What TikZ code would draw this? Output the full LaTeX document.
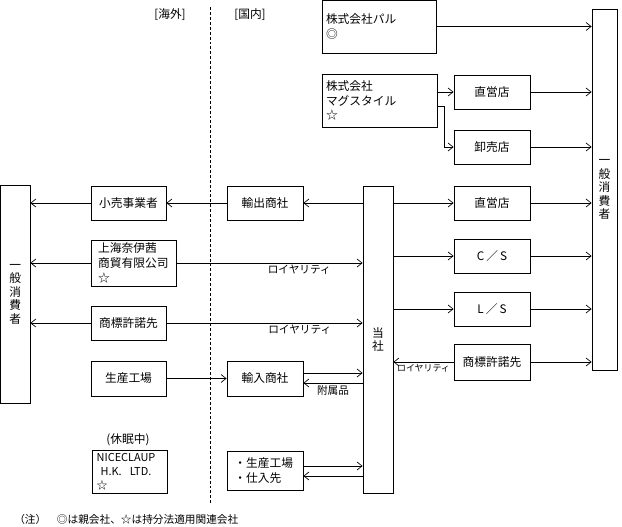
\documentclass[tikz,border=0pt]{standalone}
\usepackage{fontspec}
\setmainfont{Noto Sans CJK JP}
\usetikzlibrary{arrows.meta,calc}

\tikzset{
    box/.style={draw, line width=0.6pt, minimum width=57pt, minimum height=25.5pt, inner sep=0pt, font=\fontsize{8.8}{11}\selectfont},
    tall/.style={draw, line width=0.6pt, inner sep=0pt, align=center, font=\fontsize{8.8}{10.1}\selectfont},
    flow/.style={line width=0.5pt, -{Straight Barb[length=3.75pt,width=6pt]}},
    lbl/.style={font=\fontsize{8}{9}\selectfont, inner sep=1.5pt},
    sml/.style={font=\fontsize{6.7}{8}\selectfont, inner sep=1.5pt},
    head/.style={font=\fontsize{8.8}{10}\selectfont}
}

\begin{document}
\begin{tikzpicture}[x=0.75pt, y=-0.75pt]
    \useasboundingbox (0, 0) rectangle (622, 526);

    \node[head] (os) at (170, 15) {[海外]};
    \node[head] (dm) at (250, 15) {[国内]};
    \draw[line width=0.5pt, dash pattern=on 2.2pt off 1.5pt] (210, 7) -- (210, 503);

    \node[box, minimum width=85.5pt, minimum height=39.75pt, align=left, text width=79.5pt] (pal) at (379, 26.5) {株式会社パル\\◎};
    \node[box, minimum width=86.25pt, minimum height=39.75pt, align=left, text width=80.25pt] (mag) at (379.5, 100.5) {株式会社\\マグスタイル\\☆};
    \node[box] (d1) at (492, 92) {直営店};
    \node[box] (w1) at (492, 147) {卸売店};
    \node[tall, minimum width=18.75pt, minimum height=270.75pt] (con1) at (604.5, 189.5) {一\\般\\消\\費\\者};

    \node[tall, minimum width=22pt, minimum height=163.5pt] (con2) at (15.25, 294) {一\\般\\消\\費\\者};
    \node[box, minimum width=56.25pt] (rt) at (128.5, 203) {小売事業者};
    \node[box] (ex) at (265, 203) {輸出商社};
    \node[box, minimum width=63.75pt, minimum height=34.5pt, align=left, text width=53pt] (sh) at (133.5, 263) {上海奈伊茜\\商貿有限公司\\☆};
    \node[box, minimum width=56.25pt] (tl) at (128.5, 323) {商標許諾先};
    \node[box, minimum width=56.25pt, minimum height=26.25pt] (fa) at (128.5, 378.5) {生産工場};
    \node[box, minimum height=26.25pt] (im) at (265, 378.5) {輸入商社};
    \node[head] (ks) at (128, 440) {(休眠中)};
    \node[box, minimum width=56.25pt, minimum height=32.25pt, align=left, text width=50pt, font=\fontsize{8.2}{10.5}\selectfont] (nc) at (130, 471.5) {NICECLAUP\\\hspace{3pt}H.K.\hspace{6pt}LTD.\\☆};
    \node[box, minimum height=29.25pt, align=left, text width=46pt] (pl) at (265, 470.5) {・生産工場\\・仕入先};

    \node[tall, minimum width=22.5pt, minimum height=230.25pt] (ts) at (378, 339.5) {当\\社};
    \node[box] (d2) at (492, 203) {直営店};
    \node[box] (cs) at (492, 256) {C\,／\,S};
    \node[box] (ls) at (492, 309) {L\,／\,S};
    \node[box, minimum height=27pt] (tr) at (492, 362) {商標許諾先};

    \node[lbl, anchor=west] (nt) at (12, 519) {（注）　◎は親会社、☆は持分法適用関連会社};

    \draw[flow] (pal.east) -- (pal.east -| con1.west);
    \draw[flow] (d1.west -| mag.east) -- (d1.west);
    \draw[flow] ($(mag.east)+(0, 5.5)$) -- ++(7, 0) |- (w1.west);
    \draw[flow] (d1.east) -- (d1.east -| con1.west);
    \draw[flow] (w1.east) -- (w1.east -| con1.west);

    \draw[flow] (ex.east -| ts.west) -- (ex.east);
    \draw[flow] (ex.west) -- (rt.east);
    \draw[flow] (rt.west) -- (rt.west -| con2.east);
    \draw[flow] (sh.east) -- node[lbl, pos=0.66, below] {ロイヤリティ} (sh.east -| ts.west);
    \draw[flow] (sh.west) -- (sh.west -| con2.east);
    \draw[flow] (tl.east) -- node[lbl, pos=0.68, below] {ロイヤリティ} (tl.east -| ts.west);
    \draw[flow] (tl.west) -- (tl.west -| con2.east);
    \draw[flow] (fa.east) -- (im.west);
    \draw[flow] ($(im.east)+(0, -5.5)$) -- ($(im.east -| ts.west)+(0, -5.5)$);
    \draw[flow] ($(im.east -| ts.west)+(0, 4.5)$) -- node[lbl, below] {附属品} ($(im.east)+(0, 4.5)$);
    \draw[flow] ($(pl.east)+(0, -4.5)$) -- ($(pl.east -| ts.west)+(0, -4.5)$);
    \draw[flow] ($(pl.east -| ts.west)+(0, 5.5)$) -- ($(pl.east)+(0, 5.5)$);

    \draw[flow] (d2.west -| ts.east) -- (d2.west);
    \draw[flow] (cs.west -| ts.east) -- (cs.west);
    \draw[flow] (ls.west -| ts.east) -- (ls.west);
    \draw[flow] (tr.west) -- node[sml, below] {ロイヤリティ} (tr.west -| ts.east);
    \draw[flow] (d2.east) -- (d2.east -| con1.west);
    \draw[flow] (cs.east) -- (cs.east -| con1.west);
    \draw[flow] (ls.east) -- (ls.east -| con1.west);
    \draw[flow] (tr.east) -- (tr.east -| con1.west);
\end{tikzpicture}
\end{document}
